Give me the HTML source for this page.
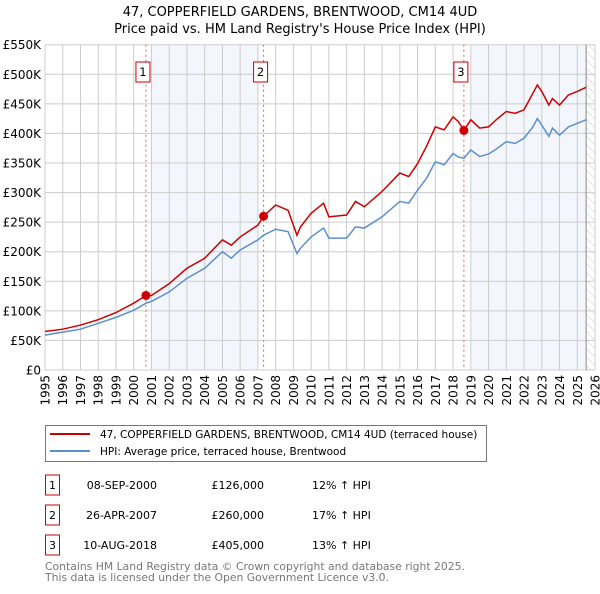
<!DOCTYPE html>
<html><head><meta charset="utf-8"><style>
body{margin:0;background:#fff;font-family:"DejaVu Sans","Liberation Sans",sans-serif;}
svg text{font-family:"DejaVu Sans","Liberation Sans",sans-serif;}
</style></head><body>
<svg id="c" width="600" height="590" xmlns="http://www.w3.org/2000/svg">
<defs><pattern id="hatch" width="6" height="6" patternUnits="userSpaceOnUse" patternTransform="rotate(-45)"><line x1="0" y1="0" x2="0" y2="6" stroke="#ccc" stroke-width="1"/></pattern></defs>
<text x="300" y="16" text-anchor="middle" font-size="13">47, COPPERFIELD GARDENS, BRENTWOOD, CM14 4UD</text>
<text x="300" y="33" text-anchor="middle" font-size="13">Price paid vs. HM Land Registry's House Price Index (HPI)</text>
<g id="plot"></g>
<g>
<rect x="45.5" y="425.5" width="441" height="36" fill="#fff" stroke="#777"/>
<line x1="50" y1="434" x2="90" y2="434" stroke="#cc0000" stroke-width="2"/>
<text x="100" y="438" font-size="10.5">47, COPPERFIELD GARDENS, BRENTWOOD, CM14 4UD (terraced house)</text>
<line x1="50" y1="451" x2="90" y2="451" stroke="#5b8fd0" stroke-width="2"/>
<text x="100" y="455" font-size="10.5">HPI: Average price, terraced house, Brentwood</text>
</g>
<g id="table" font-size="11"></g>
<text x="45" y="570" font-size="10.8" fill="#777">Contains HM Land Registry data © Crown copyright and database right 2025.</text>
<text x="45" y="581" font-size="10.8" fill="#777">This data is licensed under the Open Government Licence v3.0.</text>
</svg>
<script>
const redYears=[1995,1996,1997,1998,1999,2000,2000.69,2001,2002,2003,2004,2005,2005.5,2006,2007,2007.32,2008,2008.7,2009.2,2009.4,2010,2010.7,2011,2012,2012.5,2013,2014,2015,2015.5,2016,2016.5,2017,2017.5,2018,2018.3,2018.61,2019,2019.5,2020,2020.5,2021,2021.5,2022,2022.5,2022.75,2023,2023.4,2023.6,2024,2024.5,2025,2025.5];
const redValues=[65,69,76,85,97,113,126,126,146,172,189,220,211,225,245,260,279,270,228,242,265,282,259,262,285,276,302,333,327,349,378,411,406,428,420,405,423,409,411,425,437,434,440,468,482,471,448,459,448,465,471,478];
const hpiYears=[1995,1996,1997,1998,1999,2000,2000.69,2001,2002,2003,2004,2005,2005.5,2006,2007,2007.32,2008,2008.7,2009.2,2009.4,2010,2010.7,2011,2012,2012.5,2013,2014,2015,2015.5,2016,2016.5,2017,2017.5,2018,2018.3,2018.61,2019,2019.5,2020,2020.5,2021,2021.5,2022,2022.5,2022.75,2023,2023.4,2023.6,2024,2024.5,2025,2025.5];
const hpiValues=[59,64,69,79,89,101,113,116,132,155,172,200,189,203,220,228,238,234,197,206,225,240,223,223,242,240,259,285,282,304,324,352,347,366,360,358,372,361,365,375,386,383,392,411,425,414,395,409,397,411,417,423];
const saleLabels=["1","2","3"];
const saleYears=[2000.69,2007.32,2018.61];
const saleValues=[126,260,405];
const saleDates=["08-SEP-2000","26-APR-2007","10-AUG-2018"];
const salePrices=["£126,000","£260,000","£405,000"];
const saleHpi=["12% ↑ HPI","17% ↑ HPI","13% ↑ HPI"];
const yTicks=[0,50,100,150,200,250,300,350,400,450,500,550];
const yLabels=["£0","£50K","£100K","£150K","£200K","£250K","£300K","£350K","£400K","£450K","£500K","£550K"];
const xTicks=[1995,1996,1997,1998,1999,2000,2001,2002,2003,2004,2005,2006,2007,2008,2009,2010,2011,2012,2013,2014,2015,2016,2017,2018,2019,2020,2021,2022,2023,2024,2025,2026];

const NS="http://www.w3.org/2000/svg";
const L=45,R=595,T=44.7,B=370;
const xs=y=>L+(y-1995)/(2026-1995)*(R-L);
const ys=v=>B-v/550*(B-T);
const plot=document.getElementById('plot');
function mk(tag,at,parent){const e=document.createElementNS(NS,tag);for(const k in at)e.setAttribute(k,at[k]);(parent||plot).appendChild(e);return e;}

let e;
e=mk('rect',{x:L,y:T,width:R-L,height:B-T,fill:'#fff'});


e=mk('rect',{x:xs(2001),y:T,width:xs(2007)-xs(2001),height:B-T,fill:'#eef3fc',opacity:0.7});


e=mk('rect',{x:xs(2019),y:T,width:xs(2025.5)-xs(2019),height:B-T,fill:'#eef3fc',opacity:0.7});


e=mk('rect',{x:xs(2025.5),y:T,width:R-xs(2025.5),height:B-T,fill:'url(#hatch)'});


yTicks.forEach((v,i)=>{
  e=mk('line',{x1:L,x2:R,y1:ys(v),y2:ys(v),stroke:'#ccc','stroke-width':1});
  
  
  e=mk('text',{x:L-4,y:ys(v)+4.5,'text-anchor':'end','font-size':12});
  e.textContent=yLabels[i];
  
  
});
xTicks.forEach(t=>{
  e=mk('line',{x1:xs(t),x2:xs(t),y1:T,y2:B,stroke:'#ccc','stroke-width':1});
  
  
  e=mk('text',{x:0,y:0,'font-size':12,'text-anchor':'end',transform:`translate(${xs(t)+4.5},${B+5}) rotate(-90)`});
  e.textContent=t;
  
  
});
e=mk('line',{x1:xs(2025.5),x2:xs(2025.5),y1:T,y2:B,stroke:'#888','stroke-width':1});


saleYears.forEach((y,i)=>{
  e=mk('line',{x1:xs(y),x2:xs(y),y1:T,y2:B,stroke:'#e06060','stroke-width':1,'stroke-dasharray':'2,3'});
  
  
});
e=mk('polyline',{points:hpiYears.map((y,i)=>xs(y)+','+ys(hpiValues[i])).join(' '),fill:'none',stroke:'#5b8fd0','stroke-width':1.5});


e=mk('polyline',{points:redYears.map((y,i)=>xs(y)+','+ys(redValues[i])).join(' '),fill:'none',stroke:'#cc0000','stroke-width':1.5});


saleYears.forEach((y,i)=>{
  e=mk('circle',{cx:xs(y),cy:ys(saleValues[i]),r:4.5,fill:'#cc0000'});
  
  
  const g=mk('g',{});
  
  
  mk('rect',{x:xs(y)-10,y:62,width:14,height:20,fill:'#fff',stroke:'#cc0000'},g);
  const t=mk('text',{x:xs(y)-3,y:76,'text-anchor':'middle','font-size':11.5},g);
  t.textContent=saleLabels[i];
});
const tb=document.getElementById('table');
saleLabels.forEach((lab,i)=>{
  const cy=485+i*30;
  const g=mk('g',{},tb);
  
  
  mk('rect',{x:45.5,y:cy-10,width:14,height:20,fill:'#fff',stroke:'#cc0000'},g);
  let t=mk('text',{x:52.5,y:cy+4,'text-anchor':'middle'},g);t.textContent=lab;
  t=mk('text',{x:157,y:cy+4,'text-anchor':'end'},g);t.textContent=saleDates[i];
  t=mk('text',{x:264,y:cy+4,'text-anchor':'end'},g);t.textContent=salePrices[i];
  t=mk('text',{x:312,y:cy+4},g);t.textContent=saleHpi[i];
});
</script>
</body></html>
